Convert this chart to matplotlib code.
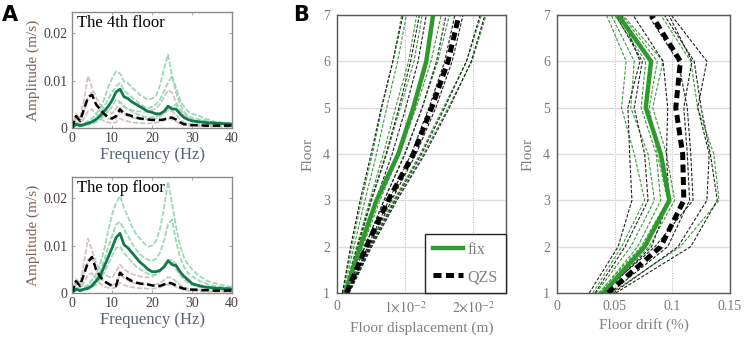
import numpy as np
import matplotlib
matplotlib.use('Agg')
import matplotlib.pyplot as plt
from matplotlib.ticker import FixedLocator, FuncFormatter

plt.rcParams['font.family'] = ['Liberation Serif', 'DejaVu Serif']
plt.rcParams['mathtext.fontset'] = 'stix'

## PANEL A DATA (amplitude spectra, 1 Hz steps)

freq = np.arange(0, 41)

# 4th floor
fix_mean_4 = [0, 0.0008, 0.0005, 0.0007, 0.001, 0.0013, 0.0018, 0.0025, 0.0035, 0.0045, 0.0058,
              0.0076, 0.0082, 0.0066, 0.0062, 0.0055, 0.005, 0.0045, 0.004, 0.0035, 0.0033,
              0.003, 0.003, 0.0035, 0.0046, 0.004, 0.004, 0.003, 0.0022, 0.0018, 0.0015,
              0.0014, 0.0013, 0.0012, 0.0011, 0.0011, 0.001, 0.001, 0.0009, 0.0009, 0.0008]
qzs_mean_4 = [0, 0.0025, 0.0015, 0.004, 0.0065, 0.007, 0.005, 0.004, 0.003, 0.0023, 0.002,
              0.0025, 0.004, 0.003, 0.0028, 0.0025, 0.0022, 0.002, 0.0019, 0.0018, 0.0017,
              0.0017, 0.0017, 0.0018, 0.0022, 0.0022, 0.0018, 0.0012, 0.0008, 0.0007, 0.0006,
              0.0006, 0.0006, 0.0005, 0.0005, 0.0005, 0.0005, 0.0005, 0.0005, 0.0005, 0.0005]
fix_runs_4 = [
    [0, 0.001, 0.0008, 0.001, 0.0015, 0.002, 0.003, 0.004, 0.006, 0.0085, 0.0105, 0.012, 0.0115,
     0.0098, 0.0095, 0.0085, 0.0078, 0.007, 0.0065, 0.006, 0.0062, 0.0068, 0.009, 0.0125, 0.0155,
     0.011, 0.0085, 0.006, 0.0045, 0.0035, 0.003, 0.0028, 0.0025, 0.002, 0.0018, 0.0015, 0.0013,
     0.0012, 0.0011, 0.001, 0.0009],
    [0, 0.0008, 0.0006, 0.0008, 0.001, 0.0014, 0.0022, 0.003, 0.0045, 0.006, 0.0075, 0.0088,
     0.0095, 0.008, 0.0072, 0.0065, 0.0058, 0.005, 0.0045, 0.0042, 0.0045, 0.005, 0.006, 0.0078,
     0.0095, 0.011, 0.0075, 0.005, 0.0035, 0.0025, 0.0022, 0.002, 0.0018, 0.0016, 0.0014, 0.0012,
     0.0011, 0.001, 0.0009, 0.0008, 0.0008],
    [0, 0.0005, 0.0004, 0.0005, 0.0007, 0.0009, 0.0012, 0.0018, 0.0025, 0.0035, 0.0045, 0.006,
     0.0055, 0.0045, 0.004, 0.0035, 0.003, 0.0027, 0.0024, 0.0022, 0.0022, 0.0024, 0.0028, 0.0035,
     0.0042, 0.0045, 0.005, 0.0035, 0.0025, 0.0018, 0.0014, 0.0012, 0.001, 0.0009, 0.0008, 0.0007,
     0.0007, 0.0006, 0.0006, 0.0005, 0.0005],
]
qzs_runs_4 = [
    [0, 0.003, 0.002, 0.006, 0.011, 0.0085, 0.0065, 0.005, 0.004, 0.0035, 0.003, 0.004, 0.0055,
     0.0045, 0.004, 0.0038, 0.0035, 0.0035, 0.0034, 0.0035, 0.0038, 0.0042, 0.005, 0.0065, 0.008,
     0.0075, 0.0055, 0.004, 0.003, 0.0022, 0.0018, 0.0015, 0.0013, 0.0012, 0.001, 0.001, 0.0009,
     0.0009, 0.0008, 0.0008, 0.0007],
    [0, 0.002, 0.0012, 0.0035, 0.0065, 0.0075, 0.005, 0.0035, 0.0025, 0.002, 0.0018, 0.002,
     0.0035, 0.003, 0.0025, 0.0022, 0.002, 0.0019, 0.0018, 0.0018, 0.0019, 0.002, 0.0024, 0.003,
     0.0038, 0.0035, 0.0028, 0.0018, 0.0012, 0.0009, 0.0008, 0.0007, 0.0006, 0.0006, 0.0006,
     0.0005, 0.0005, 0.0005, 0.0005, 0.0004, 0.0004],
    [0, 0.0012, 0.0008, 0.002, 0.0035, 0.004, 0.003, 0.002, 0.0015, 0.0012, 0.001, 0.0012, 0.002,
     0.0016, 0.0014, 0.0012, 0.0011, 0.001, 0.001, 0.001, 0.001, 0.0011, 0.0013, 0.0016, 0.002,
     0.0018, 0.0014, 0.001, 0.0007, 0.0005, 0.0004, 0.0004, 0.0003, 0.0003, 0.0003, 0.0003,
     0.0003, 0.0003, 0.0003, 0.0002, 0.0002],
]

# top floor
fix_mean_top = [0, 0.0008, 0.0005, 0.0008, 0.001, 0.0015, 0.0025, 0.0035, 0.0055, 0.0075, 0.0095,
                0.0117, 0.0126, 0.0102, 0.0095, 0.0085, 0.0075, 0.0065, 0.0058, 0.005, 0.0045,
                0.0045, 0.0048, 0.0055, 0.0068, 0.006, 0.0058, 0.0045, 0.0035, 0.0028, 0.002,
                0.0017, 0.0015, 0.0013, 0.0012, 0.0011, 0.001, 0.001, 0.0009, 0.0009, 0.0008]
qzs_mean_top = [0, 0.0025, 0.0015, 0.004, 0.0065, 0.0076, 0.005, 0.0035, 0.0025, 0.002, 0.0015,
                0.0015, 0.0043, 0.0035, 0.003, 0.0025, 0.0022, 0.002, 0.0019, 0.0018, 0.0016,
                0.0015, 0.0015, 0.0018, 0.0022, 0.002, 0.0016, 0.0012, 0.0009, 0.0008, 0.0007,
                0.0007, 0.0006, 0.0006, 0.0006, 0.0005, 0.0005, 0.0005, 0.0005, 0.0005, 0.0005]
fix_runs_top = [
    [0, 0.001, 0.0008, 0.0012, 0.0018, 0.0028, 0.004, 0.006, 0.009, 0.013, 0.0165, 0.019, 0.0205,
     0.018, 0.016, 0.014, 0.0125, 0.0115, 0.0105, 0.0098, 0.01, 0.011, 0.0135, 0.018, 0.0235,
     0.019, 0.014, 0.01, 0.0075, 0.006, 0.005, 0.0042, 0.0035, 0.003, 0.0025, 0.0022, 0.002,
     0.0018, 0.0016, 0.0014, 0.0013],
    [0, 0.0008, 0.0006, 0.001, 0.0014, 0.002, 0.003, 0.0045, 0.0068, 0.0095, 0.012, 0.0145,
     0.015, 0.0135, 0.012, 0.0105, 0.0092, 0.0082, 0.0075, 0.007, 0.0068, 0.0072, 0.0085, 0.011,
     0.0145, 0.0155, 0.011, 0.0075, 0.0055, 0.0042, 0.0035, 0.003, 0.0025, 0.0022, 0.0018,
     0.0016, 0.0014, 0.0013, 0.0012, 0.0011, 0.001],
    [0, 0.0005, 0.0004, 0.0006, 0.0008, 0.0012, 0.0018, 0.0028, 0.0042, 0.006, 0.0078, 0.0095,
     0.0098, 0.0085, 0.0075, 0.0065, 0.0056, 0.005, 0.0045, 0.004, 0.0038, 0.004, 0.0045, 0.0055,
     0.0068, 0.007, 0.0062, 0.0045, 0.0032, 0.0025, 0.002, 0.0017, 0.0015, 0.0013, 0.0011, 0.001,
     0.0009, 0.0008, 0.0008, 0.0007, 0.0007],
]
qzs_runs_top = [
    [0, 0.003, 0.002, 0.0065, 0.0115, 0.009, 0.0065, 0.0048, 0.004, 0.0035, 0.0032, 0.0045, 0.006,
     0.005, 0.0045, 0.004, 0.0037, 0.0035, 0.0033, 0.0033, 0.0035, 0.0038, 0.0045, 0.0058, 0.007,
     0.0065, 0.005, 0.0038, 0.0028, 0.0021, 0.0017, 0.0014, 0.0012, 0.0011, 0.001, 0.0009,
     0.0009, 0.0008, 0.0008, 0.0007, 0.0007],
    [0, 0.002, 0.0012, 0.004, 0.007, 0.0078, 0.005, 0.0033, 0.0024, 0.0019, 0.0017, 0.002,
     0.0038, 0.0032, 0.0026, 0.0022, 0.002, 0.0019, 0.0018, 0.0017, 0.0017, 0.0018, 0.0021,
     0.0027, 0.0034, 0.0031, 0.0025, 0.0017, 0.0012, 0.0009, 0.0008, 0.0007, 0.0006, 0.0006,
     0.0006, 0.0005, 0.0005, 0.0005, 0.0005, 0.0004, 0.0004],
    [0, 0.0012, 0.0008, 0.0022, 0.0038, 0.0042, 0.003, 0.002, 0.0014, 0.0011, 0.001, 0.0012,
     0.0022, 0.0017, 0.0014, 0.0012, 0.0011, 0.001, 0.001, 0.0009, 0.0009, 0.001, 0.0012, 0.0015,
     0.0018, 0.0017, 0.0013, 0.0009, 0.0007, 0.0005, 0.0004, 0.0004, 0.0003, 0.0003, 0.0003,
     0.0003, 0.0003, 0.0003, 0.0003, 0.0002, 0.0002],
]

## PANEL B DATA (floors 1..7)

floors = [1, 2, 3, 4, 5, 6, 7]

disp_fix_mean = [0.0012, 0.0034, 0.0058, 0.009, 0.0112, 0.0131, 0.0141]
disp_qzs_mean = [0.0014, 0.0043, 0.0075, 0.0112, 0.0139, 0.0163, 0.0179]
disp_fix_runs = [
    [0.0008, 0.0022, 0.0036, 0.0052, 0.0066, 0.0082, 0.0095],
    [0.0009, 0.0025, 0.0041, 0.0058, 0.0073, 0.0089, 0.0102],
    [0.0010, 0.0029, 0.0048, 0.0068, 0.0086, 0.0105, 0.0117],
    [0.0011, 0.0031, 0.0051, 0.0073, 0.0093, 0.0113, 0.0125],
    [0.0013, 0.0038, 0.0063, 0.0092, 0.0116, 0.0138, 0.0153],
    [0.0014, 0.0041, 0.0069, 0.0099, 0.0125, 0.0148, 0.0165],
    [0.0016, 0.0048, 0.0083, 0.0122, 0.0156, 0.0190, 0.0212],
    [0.0017, 0.0050, 0.0087, 0.0127, 0.0163, 0.0198, 0.0219],
]
disp_qzs_runs = [
    [0.0008, 0.0020, 0.0034, 0.0050, 0.0065, 0.0082, 0.0097],
    [0.0011, 0.0030, 0.0050, 0.0072, 0.0091, 0.0108, 0.0121],
    [0.0012, 0.0034, 0.0057, 0.0081, 0.0101, 0.0119, 0.0131],
    [0.0014, 0.0041, 0.0069, 0.0100, 0.0125, 0.0146, 0.0160],
    [0.0015, 0.0045, 0.0076, 0.0109, 0.0135, 0.0158, 0.0173],
    [0.0016, 0.0047, 0.0080, 0.0116, 0.0145, 0.0169, 0.0185],
    [0.0017, 0.0049, 0.0085, 0.0124, 0.0158, 0.0190, 0.0210],
    [0.0018, 0.0051, 0.0088, 0.0129, 0.0165, 0.0197, 0.0217],
]

drift_fix_mean = [0.040, 0.076, 0.0975, 0.090, 0.077, 0.0816, 0.053]
drift_qzs_mean = [0.044, 0.090, 0.110, 0.109, 0.103, 0.107, 0.082]
drift_fix_runs = [
    [0.031, 0.056, 0.076, 0.067, 0.056, 0.060, 0.043],
    [0.034, 0.064, 0.0845, 0.079, 0.064, 0.067, 0.047],
    [0.037, 0.070, 0.090, 0.086, 0.073, 0.077, 0.050],
    [0.041, 0.080, 0.102, 0.095, 0.083, 0.092, 0.057],
    [0.047, 0.107, 0.1405, 0.136, 0.122, 0.116, 0.090],
    [0.036, 0.073, 0.096, 0.087, 0.080, 0.087, 0.056],
]
drift_qzs_runs = [
    [0.028, 0.053, 0.065, 0.063, 0.0615, 0.072, 0.056],
    [0.033, 0.059, 0.079, 0.076, 0.067, 0.074, 0.051],
    [0.041, 0.082, 0.097, 0.095, 0.096, 0.092, 0.066],
    [0.046, 0.096, 0.115, 0.113, 0.110, 0.117, 0.097],
    [0.049, 0.105, 0.130, 0.132, 0.122, 0.130, 0.099],
    [0.051, 0.116, 0.139, 0.133, 0.125, 0.119, 0.093],
    [0.0385, 0.085, 0.118, 0.116, 0.113, 0.105, 0.079],
]

## FIGURE

fig = plt.figure(figsize=(7.47, 3.37), dpi=100)

axA1 = fig.add_axes([0.0964, 0.6202, 0.2142, 0.3442])
axA2 = fig.add_axes([0.0964, 0.1306, 0.2142, 0.3442])
axB1 = fig.add_axes([0.4511, 0.1306, 0.2263, 0.8249])
axB2 = fig.add_axes([0.7456, 0.1306, 0.2316, 0.8249])

light_green = '#9bd8ba'
light_grey = '#cfc5c1'
dark_green = '#107a4a'


def spectrum(ax, fix_runs, qzs_runs, fix_mean, qzs_mean, title):
    for r in qzs_runs:
        ax.plot(freq, r, color=light_grey, lw=1.3, ls=(0, (3, 1)))
    for r in fix_runs:
        ax.plot(freq, r, color=light_green, lw=1.3, ls=(0, (3, 1)))
    ax.plot(freq, fix_mean, color=dark_green, lw=2.0)
    ax.plot(freq, qzs_mean, color='black', lw=1.8, ls=(0, (3, 1.5)))
    ax.set_xlim(0, 40)
    ax.set_ylim(0, 0.0245)
    ax.set_xticks([0, 10, 20, 30, 40])
    ax.set_yticks([0, 0.01, 0.02])
    ax.set_yticklabels(['0', '0.01', '0.02'])
    ax.tick_params(direction='in', length=2, width=0.6, top=True, right=True,
                   labelsize=10, colors='#999999', pad=3)
    for lab in ax.get_xticklabels() + ax.get_yticklabels():
        lab.set_color('#4a4040')
    for s in ax.spines.values():
        s.set_color('#8a8a8a')
        s.set_linewidth(1.0)
    ax.set_xlabel('Frequency (Hz)', fontsize=12, color='#5a6275', labelpad=1)
    ax.set_ylabel('Amplitude (m/s)', fontsize=11, color='#7a6558', labelpad=3)
    ax.text(0.03, 0.97, title, transform=ax.transAxes, fontsize=12,
            ha='left', va='top', color='black')


spectrum(axA1, fix_runs_4, qzs_runs_4, fix_mean_4, qzs_mean_4, 'The 4th floor')
spectrum(axA2, fix_runs_top, qzs_runs_top, fix_mean_top, qzs_mean_top, 'The top floor')

thin_green = '#3a9a3a'
thick_green = '#2e9a2e'


def profile(ax, fix_runs, qzs_runs, fix_mean, qzs_mean):
    for r in fix_runs:
        ax.plot(r, floors, color=thin_green, lw=0.8, ls=(0, (3, 1.5)))
    for r in qzs_runs:
        ax.plot(r, floors, color='#222222', lw=0.8, ls=(0, (3, 1.5)))
    ax.plot(fix_mean, floors, color=thick_green, lw=3.2, label='fix')
    ax.plot(qzs_mean, floors, color='black', lw=3.6, ls=(0, (1.6, 0.9)), label='QZS')
    ax.set_ylim(1, 7)
    ax.set_yticks(floors)
    ax.yaxis.grid(True, color='#dddddd', lw=1.0)
    ax.xaxis.grid(True, color='#b0b0b0', lw=0.7, ls=(0, (1, 1.5)))
    ax.set_axisbelow(True)
    ax.tick_params(length=0, labelsize=10, labelcolor='#7a7a7a', pad=5)
    for s in ax.spines.values():
        s.set_color('#555555')
        s.set_linewidth(1.0)
    ax.set_ylabel('Floor', fontsize=11, color='#808080', labelpad=6)


profile(axB1, disp_fix_runs, disp_qzs_runs, disp_fix_mean, disp_qzs_mean)
axB1.set_xlim(0, 0.0248)
axB1.xaxis.set_major_locator(FixedLocator([0, 0.01, 0.02]))
axB1.xaxis.set_major_formatter(FuncFormatter(
    lambda v, p: '0' if v == 0 else r'$%d{\times}10^{-2}$' % round(v * 100)))
axB1.set_xlabel('Floor displacement (m)', fontsize=11, color='#808080', labelpad=4)
leg = axB1.legend(loc='lower right', borderaxespad=0, fancybox=False, edgecolor='#222222',
                  fontsize=11.5, handlelength=1.9, handletextpad=0.3, labelspacing=0.7,
                  borderpad=0.5, labelcolor='#808080', framealpha=1)
leg.get_frame().set_linewidth(1.0)

profile(axB2, drift_fix_runs, drift_qzs_runs, drift_fix_mean, drift_qzs_mean)
axB2.set_xlim(0, 0.15)
axB2.set_xticks([0, 0.05, 0.1, 0.15])
axB2.set_xticklabels(['0', '0.05', '0.1', '0.15'])
axB2.set_xlabel('Floor drift (%)', fontsize=11, color='#808080', labelpad=4)

fig.text(0.003, 0.985, 'A', fontsize=15, fontweight='bold', family='DejaVu Sans',
         ha='left', va='top')
fig.text(0.392, 0.985, 'B', fontsize=15, fontweight='bold', family='DejaVu Sans',
         ha='left', va='top')

fig.savefig('out.png', dpi=100)
